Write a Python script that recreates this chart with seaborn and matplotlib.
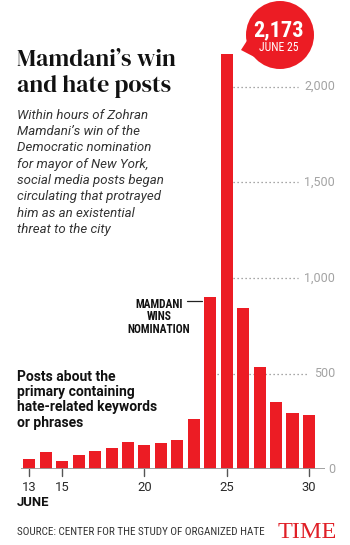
import matplotlib
matplotlib.use("Agg")
import matplotlib.pyplot as plt
import matplotlib.transforms as mtransforms
from matplotlib.patches import Ellipse, Polygon
from matplotlib.lines import Line2D
import seaborn as sns
import pandas as pd
import logging
logging.getLogger("matplotlib.font_manager").setLevel(logging.ERROR)

# ---- data ----
days = list(range(13, 31))
posts = [54, 92, 43, 75, 96, 110, 141, 127, 136, 152, 262, 902, 2173, 845, 537, 351, 293, 286]
tick_days = [13, 15, 20, 25, 30]
y_ticks = [0, 500, 1000, 1500, 2000]
y_labels = ["0", "500", "1,000", "1,500", "2,000"]
peak_label = "2,173"
peak_date = "JUNE 25"

RED = "#ec1c24"
W, H = 350, 545

sns.set_style("white")
SANS = ['Roboto', 'DejaVu Sans']
plt.rcParams['font.family'] = SANS
NARROW = ['Roboto Condensed', 'Archivo Narrow', 'Barlow Condensed', 'Roboto', 'DejaVu Sans']
TITLE = ['DM Serif Display', 'Playfair Display', 'Liberation Serif', 'DejaVu Serif']
SERIF = ['Liberation Serif', 'DejaVu Serif']

fig = plt.figure(figsize=(W / 100, H / 100), dpi=100)
fig.patch.set_facecolor("white")


def fx(px):
    return px / W


def fy(py):
    return 1 - py / H


ax = fig.add_axes([fx(21.1), fy(469.3), (325.4 - 21.1) / W, (469.3 - 48.4) / H])
df = pd.DataFrame({"day": days, "posts": posts})
sns.barplot(data=df, x="day", y="posts", order=days, color=RED, width=0.73,
            saturation=1, ax=ax, zorder=3, edgecolor="none")
ax.set_xlim(-0.5, 18.0)
ax.set_ylim(0, 2200)
ax.set_axis_off()

# baseline
ax.axhline(0, color="#9a9a9a", lw=1.3, zorder=4)

# dotted gridlines
for v in y_ticks[1:]:
    if v == 500:
        x0, x1 = 11.4, 16.87
    else:
        x0, x1 = 12.4, 16.35
    ax.hlines(v, x0, x1, colors="#8a8a8a", linestyles=(0, (1, 2.2)), lw=0.9, zorder=1)

# y labels on right
blend = mtransforms.blended_transform_factory(fig.transFigure, ax.transData)
for v, lab in zip(y_ticks, y_labels):
    ax.text(fx(335), v, lab, transform=blend, ha="right", va="center",
            fontsize=9, color="#a3a3a3")

# x ticks
for d in tick_days:
    i = days.index(d)
    ax.plot([i, i], [0, -36], color="#555555", lw=1, clip_on=False, zorder=4)
    ax.text(i, -93, str(d), ha="center", va="center", fontsize=9.4, color="#2a2a2a")

fig.text(fx(17), fy(502), "JUNE", ha="left", va="center", fontsize=9.4,
         fontweight="bold", color="#111111")

# title
fig.text(fx(17), fy(66.5), "Mamdani\u2019s win", family=TITLE,
         fontsize=17.2, color="#111111", va="baseline", ha="left")
fig.text(fx(17), fy(92.5), "and hate posts", family=TITLE,
         fontsize=17.2, color="#111111", va="baseline", ha="left")

sub = ["Within hours of Zohran", "Mamdani\u2019s win of the", "Democratic nomination",
       "for mayor of New York,", "social media posts began",
       "circulating that protrayed", "him as an existential", "threat to the city"]
for k, line in enumerate(sub):
    fig.text(fx(17), fy(118.8 + 16.3 * k), line, style="italic", fontsize=9.5,
             color="#333333", va="baseline", ha="left")

note = ["Posts about the", "primary containing", "hate-related keywords", "or phrases"]
for k, line in enumerate(note):
    fig.text(fx(17), fy(380.7 + 15.3 * k), line, fontweight="bold", fontsize=10,
             color="#111111", va="baseline", ha="left")

# Mamdani wins annotation
for k, line in enumerate(["MAMDANI", "WINS", "NOMINATION"]):
    fig.text(fx(159), fy(307.5 + 12.6 * k), line, family=NARROW, fontsize=8.3,
             fontweight="bold", color="#111111", va="baseline", ha="center")
fig.add_artist(Line2D([fx(187), fx(202)], [fy(301), fy(301)], color="#222222", lw=0.9))

# peak bubble
fig.add_artist(Polygon([(fx(241), fy(50)), (fx(250), fy(36)), (fx(264), fy(62))],
                       closed=True, facecolor=RED, edgecolor="none",
                       transform=fig.transFigure))
fig.add_artist(Ellipse((fx(280), fy(35)), 2 * 34 / W, 2 * 34 / H, facecolor=RED,
                       edgecolor="none", transform=fig.transFigure))
fig.text(fx(279), fy(36), peak_label, ha="center", va="baseline", family=NARROW,
         fontsize=16, fontweight="bold", color="white")
fig.text(fx(279), fy(51), peak_date, ha="center", va="baseline", family=NARROW,
         fontsize=8.5, color="white")

# source + logo
fig.text(fx(17), fy(535), "SOURCE: CENTER FOR THE STUDY OF ORGANIZED HATE", family=NARROW,
         fontsize=8.0, color="#333333", va="baseline", ha="left")
fig.text(fx(337), fy(538), "TIME", family=SERIF, fontsize=17.5, color="#e01f26",
         va="baseline", ha="right")

fig.savefig("out.png", dpi=100, facecolor="white")
